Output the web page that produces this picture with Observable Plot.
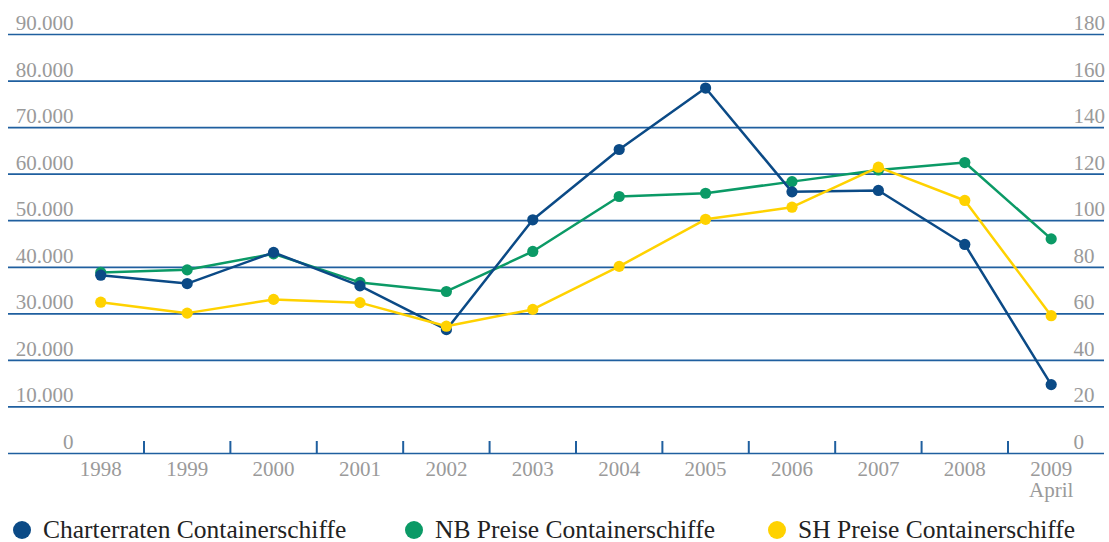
<!DOCTYPE html>
<html>
<head>
<meta charset="utf-8">
<script src="https://cdn.jsdelivr.net/npm/d3@7"></script>
<script src="https://cdn.jsdelivr.net/npm/@observablehq/plot@0.6"></script>
<style>
  body { margin: 0; background: #fff; }
  #chart { width: 1109px; height: 506px; }
  #chart svg { display: block; }
  #legend { position: relative; width: 1109px; height: 36px; font-family: "Liberation Serif", "Times New Roman", serif; font-size: 25.5px; color: #222; }
  .item { position: absolute; top: 12px; height: 24px; display: flex; align-items: center; line-height: 24px; white-space: nowrap; }
  .sw { width: 18px; height: 18px; border-radius: 50%; margin-right: 12px; }
  #chart svg text { font-family: "Liberation Serif", "Times New Roman", serif; }
</style>
</head>
<body>
<div id="chart"></div>
<div id="legend"></div>
<script>
// ---- data ----
const years = [1998, 1999, 2000, 2001, 2002, 2003, 2004, 2005, 2006, 2007, 2008, 2009];
const yearLabels = ["1998", "1999", "2000", "2001", "2002", "2003", "2004", "2005", "2006", "2007", "2008", "2009\nApril"];
const charterraten = [38300, 36500, 43200, 36000, 26600, 50200, 65300, 78500, 56200, 56500, 44900, 14800]; // left axis
const nbPreise = [77.8, 78.9, 85.8, 73.5, 69.6, 86.8, 110.4, 111.8, 116.8, 121.8, 125.0, 92.2];      // right axis
const shPreise = [65.0, 60.3, 66.2, 64.8, 54.7, 61.9, 80.4, 100.6, 105.8, 123.0, 108.7, 59.2];       // right axis
const leftTicks = [0, 10000, 20000, 30000, 40000, 50000, 60000, 70000, 80000, 90000];
const rightTicks = [0, 20, 40, 60, 80, 100, 120, 140, 160, 180];
const seriesNames = ["Charterraten Containerschiffe", "NB Preise Containerschiffe", "SH Preise Containerschiffe"];
const seriesColors = ["#0b4a86", "#0b9a66", "#ffd200"];

// ---- layout ----
const W = 1109, H = 506, mT = 34, mB = 53, mL = 8, mR = 5;
const frameH = H - mT - mB;
const gridColor = "#1f5f9f";
const labelColor = "#9a9a9a";
const serif = "'Liberation Serif', 'Times New Roman', serif";
const ratio = leftTicks[leftTicks.length - 1] / rightTicks[rightTicks.length - 1];

const de = d3.formatLocale({decimal: ",", thousands: ".", grouping: [3], currency: ["", " €"]});
const fmt = de.format(",");

const mk = (vals, scale) => years.map((y, i) => ({year: y, value: vals[i] * scale}));
const dChar = mk(charterraten, 1);
const dNB = mk(nbPreise, ratio);
const dSH = mk(shPreise, ratio);
const tickYears = years.slice(0, -1).map(y => y + 0.5);

const series = (data, color) => [
  Plot.line(data, {x: "year", y: "value", stroke: color, strokeWidth: 2.5}),
  Plot.dot(data, {x: "year", y: "value", fill: color, r: 5.6})
];

const chart = Plot.plot({
  width: W, height: H,
  marginTop: mT, marginBottom: mB, marginLeft: mL, marginRight: mR,
  style: {fontFamily: serif, background: "#fff"},
  x: {domain: [1996.932, 2009.617], axis: null},
  y: {domain: [0, 90000], axis: null},
  marks: [
    Plot.ruleY(leftTicks, {y: d => d, stroke: gridColor, strokeWidth: 1.7}),
    Plot.tickX(tickYears, {x: d => d, insetTop: frameH - 12, stroke: gridColor, strokeWidth: 2}),
    Plot.text(leftTicks, {y: d => d, text: d => fmt(d), frameAnchor: "left", dx: 65, textAnchor: "end", lineAnchor: "bottom", dy: -4.5, fill: labelColor, fontSize: 21, fontFamily: serif}),
    Plot.text(rightTicks, {y: (d, i) => leftTicks[i], text: d => String(d), frameAnchor: "right", dx: -31, textAnchor: "start", lineAnchor: "bottom", dy: -4.5, fill: labelColor, fontSize: 21, fontFamily: serif}),
    Plot.text(years, {x: d => d, text: (d, i) => yearLabels[i], frameAnchor: "bottom", lineAnchor: "top", dy: 8, lineHeight: 1.0, fill: labelColor, fontSize: 21, fontFamily: serif}),
    ...series(dNB, seriesColors[1]),
    ...series(dChar, seriesColors[0]),
    ...series(dSH, seriesColors[2])
  ]
});
document.getElementById("chart").appendChild(chart);

// ---- legend ----
const legendLeft = [13, 405, 768];
const legend = document.getElementById("legend");
seriesNames.forEach((name, i) => {
  const it = document.createElement("div");
  it.className = "item";
  it.style.left = legendLeft[i] + "px";
  const sw = document.createElement("span");
  sw.className = "sw";
  sw.style.background = seriesColors[i];
  const tx = document.createElement("span");
  tx.textContent = name;
  it.appendChild(sw);
  it.appendChild(tx);
  legend.appendChild(it);
});
</script>
</body>
</html>
